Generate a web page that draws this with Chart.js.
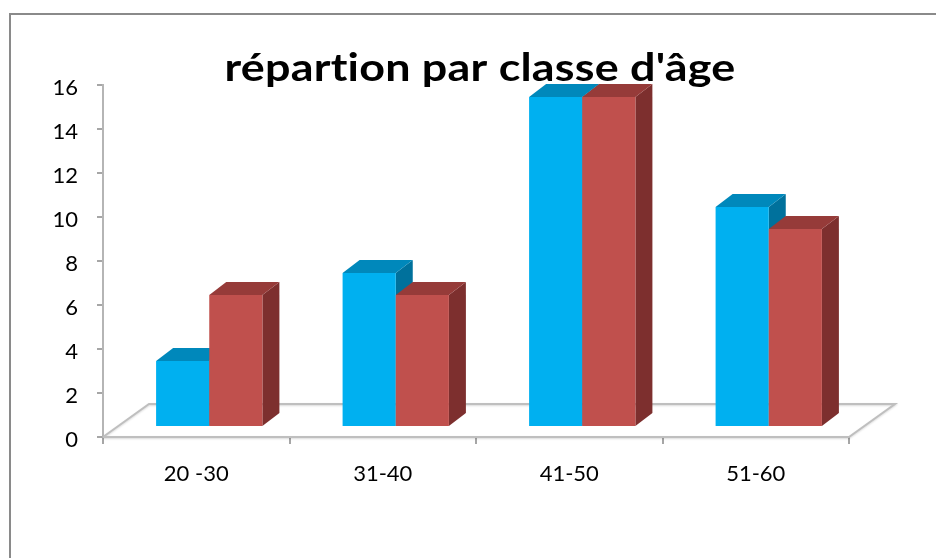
<!DOCTYPE html>
<html>
<head>
<meta charset="utf-8">
<script src="https://cdn.jsdelivr.net/npm/chart.js@4.4.1/dist/chart.umd.min.js"></script>
<style>
  body { margin: 0; background: #fff; overflow: hidden; }
  #cadre { position: absolute; left: 9px; top: 13px; width: 1000px; height: 600px; border: 2px solid #8a8a8a; }
  canvas { position: absolute; left: 0; top: 0; }
</style>
</head>
<body>
<div id="cadre"></div>
<canvas id="chart" width="936" height="558"></canvas>
<script>
const classes = ['20 -30', '31-40', '41-50', '51-60'];
const serie1 = [3, 7, 15, 10];
const serie2 = [6, 6, 15, 9];
const titre = "répartion par classe d'âge";

// couleurs des faces (avant, dessus, côté)
const bleu = ['#00B0F0', '#0088BB', '#00719C'];
const rouge = ['#C0504D', '#963B39', '#7D2F2E'];

// décalage "3D" : position des barres dans la profondeur, profondeur des barres, profondeur du sol
const decal = { x: 13, y: -10 };
const prof = { x: 17, y: -13 };
const sol = { x: 46, y: -33 };

const effet3d = {
    id: 'effet3d',
    beforeDatasetsDraw(chart) {
        const ctx = chart.ctx;
        const area = chart.chartArea;
        const y0 = chart.scales.y.getPixelForValue(0);

        // sol
        ctx.save();
        ctx.strokeStyle = '#BFBFBF';
        ctx.lineWidth = 2;
        ctx.shadowColor = 'rgba(0,0,0,0.15)';
        ctx.shadowBlur = 2;
        ctx.shadowOffsetY = 1;
        ctx.beginPath();
        ctx.moveTo(area.left, y0);
        ctx.lineTo(area.left + sol.x, y0 + sol.y);
        ctx.lineTo(area.right + sol.x, y0 + sol.y);
        ctx.lineTo(area.right, y0);
        ctx.lineTo(area.left, y0);
        ctx.stroke();
        ctx.restore();

        ctx.save();
        ctx.translate(decal.x, decal.y);
        chart.data.datasets.forEach((ds, i) => {
            const couleurs = i === 0 ? bleu : rouge;
            chart.getDatasetMeta(i).data.forEach(bar => {
                const g = bar.x - bar.width / 2;
                const d = bar.x + bar.width / 2;
                const h = bar.y;
                const b = bar.base;
                // côté
                ctx.fillStyle = couleurs[2];
                ctx.beginPath();
                ctx.moveTo(d, h);
                ctx.lineTo(d + prof.x, h + prof.y);
                ctx.lineTo(d + prof.x, b + prof.y);
                ctx.lineTo(d, b);
                ctx.closePath();
                ctx.fill();
                // dessus
                ctx.fillStyle = couleurs[1];
                ctx.beginPath();
                ctx.moveTo(g, h);
                ctx.lineTo(g + prof.x, h + prof.y);
                ctx.lineTo(d + prof.x, h + prof.y);
                ctx.lineTo(d, h);
                ctx.closePath();
                ctx.fill();
                // face avant
                bar.draw(ctx);
            });
        });
        ctx.restore();
        return false;
    },
    afterDraw(chart) {
        const ctx = chart.ctx;
        ctx.save();
        ctx.font = 'bold 39px Lato';
        ctx.letterSpacing = '0.2px'; // pas de ligature "ti"
        ctx.fillStyle = '#000';
        ctx.textAlign = 'center';
        ctx.textBaseline = 'alphabetic';
        ctx.translate(480, 81);
        ctx.scale(1.15, 1);
        ctx.fillText(titre, 0, 0);
        ctx.restore();
    }
};

new Chart(document.getElementById('chart'), {
    type: 'bar',
    data: {
        labels: classes,
        datasets: [
            { label: 'Série 1', data: serie1, backgroundColor: bleu[0] },
            { label: 'Série 2', data: serie2, backgroundColor: rouge[0] }
        ]
    },
    options: {
        responsive: false,
        animation: false,
        layout: { padding: { top: 85, right: 87, bottom: 0, left: 0 } },
        datasets: { bar: { categoryPercentage: 0.57, barPercentage: 1.0 } },
        plugins: {
            legend: { display: false },
            title: { display: false },
            tooltip: { enabled: false }
        },
        scales: {
            x: {
                afterFit: scale => { scale.height = 121; },
                grid: { drawOnChartArea: false, tickLength: 7, color: '#A6A6A6', lineWidth: 2 },
                border: { display: false },
                ticks: { color: '#000', font: { family: 'Lato', size: 22 }, padding: 17 }
            },
            y: {
                min: 0,
                max: 16,
                afterFit: scale => { scale.width = 103; },
                grid: { drawOnChartArea: false, tickLength: 6, color: '#A6A6A6', lineWidth: 2 },
                border: { color: '#B5B5B5', width: 2 },
                ticks: { stepSize: 2, color: '#000', font: { family: 'Lato', size: 22 }, padding: 19, labelOffset: 3 }
            }
        }
    },
    plugins: [effet3d]
});
</script>
</body>
</html>
